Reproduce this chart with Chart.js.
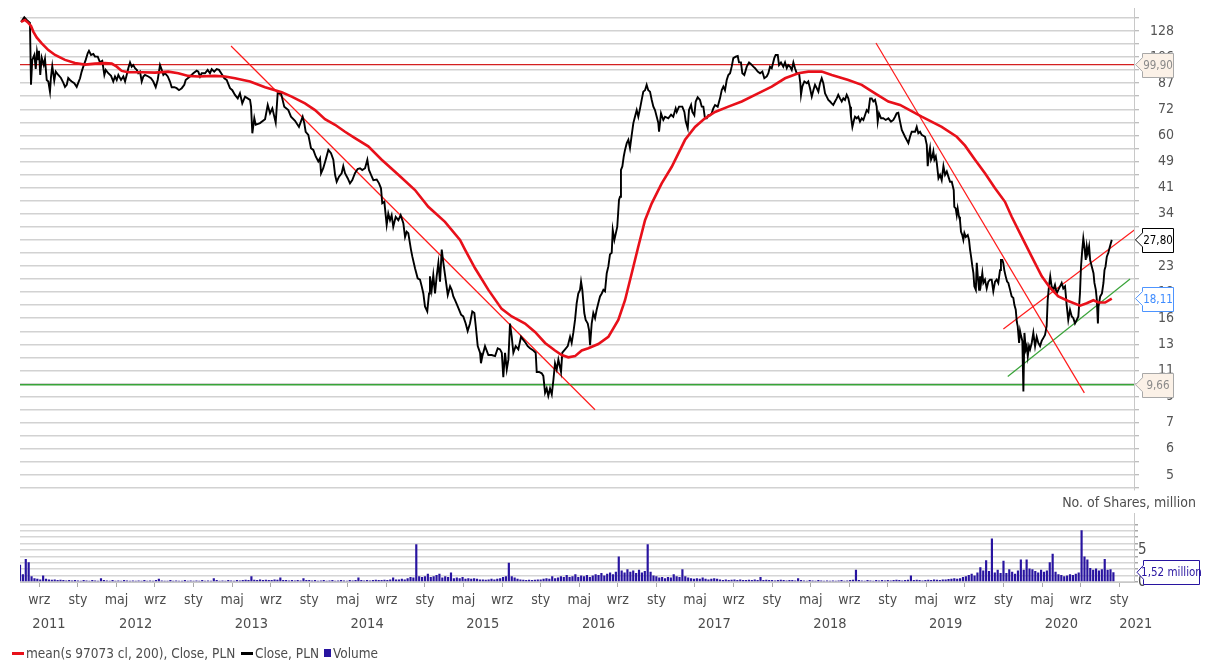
<!DOCTYPE html>
<html>
<head>
<meta charset="utf-8">
<script src="https://cdn.jsdelivr.net/npm/chart.js@4.4.1/dist/chart.umd.min.js"></script>
<style>
  html, body { margin: 0; padding: 0; background: #fff; }
  body {
    width: 1206px; height: 661px; position: relative; overflow: hidden;
    font-family: "Liberation Sans Narrow", "DejaVu Sans Condensed", sans-serif;
    color: #4d4d4d;
  }
  #priceCanvas { position: absolute; left: 0; top: 0; }
  #volCanvas { position: absolute; left: 0; top: 500px; }
  #volTitle { position: absolute; right: 10px; top: 494px; font-size: 14px; line-height: 17px; }
  .lg { position: absolute; top: 645px; font-size: 13.5px; line-height: 16px; white-space: nowrap; }
  .dash { position: absolute; height: 3px; top: 652px; }
</style>
</head>
<body>
<canvas id="priceCanvas" width="1206" height="500"></canvas>
<canvas id="volCanvas" width="1206" height="161"></canvas>
<div id="volTitle">No. of Shares, million</div>
<div class="dash" style="left:12px;width:12px;background:#e8101a"></div>
<div class="lg" style="left:26px">mean(s 97073 cl, 200), Close, PLN</div>
<div class="dash" style="left:241px;width:12px;background:#000"></div>
<div class="lg" style="left:255px">Close, PLN</div>
<div style="position:absolute;left:324px;top:649px;width:7px;height:8px;background:#2814a0"></div>
<div class="lg" style="left:333px">Volume</div>
<script>
const FONT = "'Liberation Sans Narrow', 'DejaVu Sans Condensed', sans-serif";
Chart.defaults.font.family = FONT;
Chart.defaults.font.size = 14;
Chart.defaults.color = "#4d4d4d";

// close price, [decimal year, PLN]
const closeData = [
  [2011.509,136.4],[2011.537,141.1],[2011.558,138.4],[2011.586,135.5],[2011.595,86.2],[2011.606,103.4],[2011.624,107.2],[2011.636,96.8],[2011.647,109.8],[2011.658,103.9],
  [2011.664,110.5],[2011.675,92.6],[2011.688,105.0],[2011.705,99.6],[2011.716,104.2],[2011.731,89.3],[2011.745,88.3],[2011.759,82.0],[2011.768,91.4],[2011.779,98.9],
  [2011.796,88.9],[2011.809,94.9],[2011.831,92.6],[2011.854,90.6],[2011.874,87.6],[2011.889,84.9],[2011.904,86.2],[2011.917,90.6],[2011.932,89.3],[2011.947,88.3],
  [2011.969,87.2],[2011.990,84.9],[2012.004,87.6],[2012.019,90.4],[2012.033,94.9],[2012.047,98.4],[2012.068,103.4],[2012.085,108.5],[2012.096,110.5],[2012.114,107.2],
  [2012.134,108.0],[2012.148,105.9],[2012.172,105.9],[2012.191,101.5],[2012.211,102.6],[2012.229,92.6],[2012.241,96.1],[2012.263,93.8],[2012.287,92.0],[2012.306,88.3],
  [2012.321,91.6],[2012.336,89.3],[2012.350,92.6],[2012.373,89.3],[2012.393,91.6],[2012.408,88.3],[2012.422,92.6],[2012.436,97.3],[2012.451,101.5],[2012.465,98.4],
  [2012.479,99.6],[2012.494,97.3],[2012.509,96.1],[2012.522,93.8],[2012.537,94.9],[2012.552,88.3],[2012.566,91.6],[2012.580,92.6],[2012.609,91.6],[2012.632,90.4],
  [2012.652,88.3],[2012.673,84.7],[2012.690,89.3],[2012.710,99.6],[2012.725,96.1],[2012.739,92.6],[2012.753,93.8],[2012.777,91.6],[2012.796,88.3],[2012.811,84.7],
  [2012.834,84.7],[2012.854,84.1],[2012.874,82.9],[2012.898,84.1],[2012.920,86.2],[2012.932,89.3],[2012.950,90.4],[2012.969,91.6],[2012.998,93.8],[2013.027,95.6],
  [2013.041,94.9],[2013.056,91.6],[2013.070,93.8],[2013.099,93.8],[2013.122,96.1],[2013.142,93.8],[2013.157,96.6],[2013.179,94.9],[2013.200,96.6],[2013.220,96.1],
  [2013.243,93.3],[2013.266,90.4],[2013.286,89.3],[2013.315,84.1],[2013.335,82.9],[2013.358,80.1],[2013.382,78.1],[2013.401,81.0],
  [2013.421,75.3],[2013.445,79.1],[2013.488,77.2],[2013.497,73.5],[2013.508,60.5],[2013.525,67.6],[2013.537,64.4],[2013.574,65.2],[2013.618,67.1],[2013.641,74.4],
  [2013.661,70.0],[2013.681,72.6],[2013.710,65.4],[2013.727,81.0],[2013.756,81.0],[2013.784,73.5],[2013.819,71.7],[2013.842,68.3],[2013.877,66.3],[2013.911,63.4],
  [2013.943,68.3],[2013.957,65.2],[2013.969,61.2],[2013.992,59.8],[2014.015,54.3],[2014.035,53.6],[2014.056,51.1],[2014.078,49.3],[2014.093,50.5],[2014.102,45.2],
  [2014.121,46.9],[2014.142,49.9],[2014.165,53.6],[2014.188,52.3],[2014.208,49.9],[2014.223,44.7],[2014.237,42.5],[2014.257,44.1],[2014.280,45.2],[2014.294,47.6],
  [2014.309,45.2],[2014.332,43.6],[2014.352,42.0],[2014.372,43.0],[2014.395,45.2],[2014.418,46.6],[2014.439,46.9],[2014.458,46.3],[2014.482,46.9],[2014.502,49.9],
  [2014.516,46.3],[2014.534,44.7],[2014.554,43.0],[2014.583,43.2],[2014.603,42.0],[2014.620,40.5],[2014.631,36.3],[2014.649,36.7],[2014.669,31.0],[2014.683,33.7],
  [2014.698,32.1],[2014.712,33.3],[2014.726,30.6],[2014.747,32.9],[2014.770,32.1],[2014.790,33.3],[2014.813,31.4],[2014.828,28.4],[2014.842,29.5],[2014.856,29.2],
  [2014.879,25.9],[2014.891,24.6],[2014.914,22.6],[2014.937,21.0],[2014.957,20.8],[2014.972,19.8],[2014.986,18.8],[2015.000,17.1],[2015.020,16.5],[2015.035,18.8],
  [2015.043,21.3],[2015.058,19.3],[2015.072,21.5],[2015.087,18.8],[2015.101,21.3],[2015.116,23.5],[2015.130,20.5],[2015.145,25.9],[2015.159,23.5],[2015.179,20.8],
  [2015.197,18.6],[2015.217,19.8],[2015.231,19.3],[2015.245,18.4],[2015.260,17.9],[2015.283,17.1],
  [2015.312,16.1],[2015.331,15.9],[2015.352,15.1],[2015.369,14.3],[2015.389,15.1],[2015.409,16.5],[2015.427,16.3],[2015.439,14.8],[2015.456,12.8],[2015.476,12.2],
  [2015.484,11.3],[2015.496,11.9],[2015.519,12.8],[2015.548,12.0],[2015.577,12.0],[2015.606,11.9],[2015.629,12.6],[2015.649,12.5],[2015.664,12.2],[2015.677,10.2],
  [2015.692,12.2],[2015.707,10.8],[2015.721,11.6],[2015.735,15.1],[2015.750,13.7],[2015.764,12.2],[2015.784,12.8],[2015.807,12.5],[2015.830,13.7],[2015.850,13.4],
  [2015.871,13.1],[2015.888,12.8],[2015.908,12.6],[2015.937,12.4],[2015.957,12.2],[2015.966,10.6],[2015.986,10.6],[2016.009,10.5],[2016.023,10.3],[2016.038,9.1],
  [2016.052,9.4],[2016.066,8.9],[2016.081,9.4],[2016.096,9.0],[2016.110,10.0],[2016.124,11.3],[2016.139,10.8],[2016.153,11.6],[2016.176,10.6],[2016.187,12.2],
  [2016.211,12.5],[2016.234,12.8],[2016.254,13.7],[2016.268,13.1],[2016.282,14.1],[2016.297,15.5],[2016.311,17.5],[2016.325,18.8],[2016.340,19.3],[2016.349,20.5],
  [2016.360,19.3],[2016.377,16.3],[2016.389,15.5],[2016.407,15.1],[2016.418,14.4],[2016.427,12.9],[2016.441,15.1],[2016.455,16.3],[2016.470,15.7],[2016.484,16.7],
  [2016.498,17.5],[2016.513,18.4],[2016.528,18.8],[2016.542,19.3],[2016.556,19.1],[2016.571,21.8],[2016.585,22.9],[2016.599,25.0],[2016.614,25.3],[2016.623,29.9],
  [2016.637,27.8],[2016.649,29.1],[2016.662,30.6],[2016.677,37.2],[2016.686,38.1],[2016.694,46.3],[2016.706,47.5],[2016.718,51.1],[2016.729,53.6],[2016.744,56.3],
  [2016.758,57.7],[2016.772,54.3],[2016.787,59.8],[2016.801,65.2],[2016.815,68.3],[2016.830,71.7],[2016.844,68.3],[2016.859,72.6],[2016.873,77.2],[2016.887,82.0],
  [2016.902,82.9],[2016.916,86.2],[2016.930,82.9],[2016.945,82.0],[2016.960,77.2],[2016.974,73.5],[2016.988,71.7],[2017.003,68.3],[2017.017,65.2],[2017.023,61.2],
  [2017.040,70.0],[2017.060,66.7],[2017.075,68.3],[2017.103,67.5],[2017.127,69.3],[2017.146,68.3],[2017.167,72.6],
  [2017.176,70.7],[2017.196,73.5],[2017.224,73.5],[2017.242,70.7],[2017.254,65.9],[2017.271,62.8],[2017.282,71.7],[2017.300,74.4],[2017.311,70.7],[2017.328,69.0],
  [2017.340,76.3],[2017.357,78.7],[2017.377,77.2],[2017.392,73.5],[2017.406,73.5],[2017.420,67.5],[2017.435,67.5],[2017.449,69.0],[2017.464,69.0],[2017.478,70.0],
  [2017.492,72.6],[2017.507,74.4],[2017.530,73.5],[2017.550,78.1],[2017.565,82.9],[2017.579,85.1],[2017.593,82.9],[2017.608,89.3],[2017.622,92.6],[2017.637,93.8],
  [2017.651,98.4],[2017.665,104.7],[2017.686,105.9],[2017.703,106.4],[2017.714,101.5],[2017.731,101.5],[2017.743,93.8],[2017.760,92.6],[2017.781,98.4],[2017.801,101.5],
  [2017.818,100.2],[2017.838,98.4],[2017.853,97.3],[2017.876,94.9],[2017.896,93.8],[2017.916,94.9],[2017.933,90.4],[2017.954,91.6],[2017.968,93.8],[2017.982,98.4],
  [2017.997,97.3],[2018.019,104.7],[2018.031,107.2],[2018.049,107.2],[2018.060,99.6],[2018.077,101.5],[2018.097,98.4],[2018.112,101.5],[2018.127,97.3],[2018.140,99.6],
  [2018.155,98.4],[2018.170,96.1],[2018.184,101.5],[2018.198,97.3],[2018.213,93.8],[2018.233,93.8],[2018.244,87.2],[2018.250,80.1],[2018.261,85.1],[2018.279,88.3],
  [2018.300,87.2],[2018.313,88.3],[2018.328,84.1],[2018.343,79.1],[2018.357,82.9],[2018.371,86.2],[2018.386,84.1],[2018.400,82.0],[2018.414,87.2],[2018.429,90.4],
  [2018.443,87.2],[2018.458,81.0],[2018.472,79.1],[2018.486,77.2],[2018.501,76.3],[2018.515,75.3],[2018.529,74.4],[2018.544,76.3],[2018.559,78.1],[2018.572,80.1],
  [2018.587,78.1],[2018.602,76.3],[2018.616,78.1],[2018.630,77.2],[2018.645,80.1],[2018.659,78.1],[2018.674,73.5],[2018.682,68.3],[2018.694,63.4],[2018.708,66.7],
  [2018.717,68.3],[2018.732,67.5],[2018.745,68.3],[2018.760,65.9],[2018.775,67.5],[2018.789,66.7],[2018.803,69.0],[2018.818,71.7],[2018.832,70.7],[2018.847,78.1],
  [2018.861,78.1],[2018.875,76.3],[2018.890,77.2],[2018.904,73.5],[2018.913,65.9],[2018.924,70.0],[2018.942,67.5],[2018.961,67.5],[2018.982,66.7],[2019.005,67.5],
  [2019.028,65.9],[2019.048,66.7],
  [2019.063,68.3],[2019.077,70.0],[2019.091,70.3],[2019.106,65.9],[2019.121,62.0],[2019.149,59.0],[2019.178,56.3],[2019.192,59.0],[2019.207,61.2],[2019.236,61.2],
  [2019.250,63.4],[2019.264,60.5],[2019.279,61.2],[2019.293,59.8],[2019.322,59.0],[2019.337,55.6],[2019.345,47.6],[2019.357,52.3],[2019.365,54.3],[2019.374,49.9],
  [2019.385,51.1],[2019.394,53.0],[2019.403,49.9],[2019.415,51.1],[2019.424,48.6],[2019.438,43.6],[2019.452,44.7],[2019.466,43.0],[2019.481,47.6],[2019.495,44.7],
  [2019.510,45.8],[2019.524,44.1],[2019.538,42.5],[2019.553,42.5],[2019.570,40.0],[2019.575,35.4],[2019.587,35.0],[2019.596,33.3],[2019.604,35.0],[2019.616,32.9],
  [2019.624,32.1],[2019.633,29.5],[2019.644,28.8],[2019.653,27.8],[2019.662,29.2],[2019.674,28.4],[2019.691,28.8],[2019.702,27.8],[2019.711,25.9],[2019.720,24.6],
  [2019.731,22.9],[2019.740,21.8],[2019.748,19.8],[2019.761,19.3],[2019.769,23.5],[2019.778,21.3],[2019.789,19.3],[2019.797,21.3],[2019.806,20.3],[2019.817,21.8],
  [2019.826,20.3],[2019.840,20.8],[2019.855,19.5],[2019.869,20.5],[2019.884,20.8],[2019.898,20.8],[2019.912,19.1],[2019.927,20.5],[2019.941,20.8],[2019.955,20.3],
  [2019.970,22.3],[2019.978,24.0],[2019.990,24.0],[2019.998,23.5],[2020.007,22.3],[2020.019,21.3],[2020.031,20.5],[2020.042,20.3],[2020.057,19.3],[2020.071,18.4],
  [2020.085,18.2],[2020.094,17.3],[2020.106,16.7],[2020.115,15.3],[2020.123,14.8],[2020.135,13.1],[2020.143,14.3],[2020.152,13.8],[2020.163,13.3],[2020.172,9.2],
  [2020.181,14.1],[2020.193,12.5],[2020.201,12.8],[2020.210,11.9],[2020.221,12.8],[2020.230,12.5],[2020.244,13.1],[2020.258,14.1],[2020.273,12.8],[2020.287,13.7],
  [2020.301,13.1],[2020.316,12.8],[2020.330,13.3],[2020.345,13.6],[2020.359,13.9],[2020.373,14.8],[2020.382,17.9],[2020.393,19.8],[2020.404,21.3],[2020.416,19.8],
  [2020.431,19.3],[2020.445,20.0],[2020.460,18.8],[2020.474,19.3],[2020.489,19.8],[2020.503,20.3],[2020.517,19.5],[2020.532,19.8],[2020.546,17.3],[2020.560,15.5],
  [2020.575,16.7],[2020.590,15.9],[2020.604,15.7],[2020.618,15.1],[2020.633,15.5],[2020.647,15.9],[2020.661,18.8],[2020.670,22.9],[2020.681,25.9],[2020.690,28.1],
  [2020.699,26.5],[2020.711,24.0],[2020.720,26.5],[2020.729,25.2],[2020.740,26.5],[2020.749,24.0],[2020.763,22.9],[2020.778,21.8],[2020.786,20.3],[2020.798,19.3],
  [2020.807,17.9],[2020.816,15.1],[2020.821,17.1],[2020.836,18.4],[2020.851,18.8],[2020.864,20.3],[2020.873,22.3],[2020.882,22.9],[2020.893,24.6],[2020.906,25.3],
  [2020.920,26.5],[2020.936,27.80]
];

// 200-session mean of the close
const meanData = [
  [2011.509,136.4],[2011.543,138.4],[2011.572,135.5],[2011.595,132.4],[2011.615,127.1],[2011.644,121.8],[2011.688,116.7],[2011.745,111.1],[2011.803,107.2],[2011.889,103.4],
  [2011.975,101.0],[2012.062,99.9],[2012.148,100.6],[2012.235,101.0],[2012.293,100.6],[2012.336,98.4],[2012.379,95.4],[2012.436,94.5],[2012.552,94.5],[2012.667,94.2],
  [2012.782,94.9],[2012.868,93.8],[2012.955,92.0],[2013.041,91.6],[2013.185,92.0],[2013.272,91.6],[2013.358,90.4],[2013.488,88.3],[2013.618,84.7],[2013.762,81.6],
  [2013.848,79.1],[2013.963,75.3],[2014.050,71.7],[2014.136,67.1],[2014.223,64.4],[2014.309,61.2],[2014.395,58.4],[2014.510,55.0],[2014.626,49.9],[2014.770,44.7],
  [2014.914,40.0],[2015.029,35.4],[2015.173,31.7],[2015.303,27.8],[2015.346,25.9],[2015.433,22.6],[2015.548,19.3],[2015.663,16.8],[2015.750,15.9],[2015.865,15.1],
  [2015.951,14.2],[2016.038,13.1],[2016.124,12.4],[2016.182,12.0],[2016.239,11.8],[2016.297,11.9],[2016.355,12.4],[2016.412,12.6],[2016.498,13.0],[2016.585,13.7],
  [2016.671,15.5],[2016.729,17.9],[2016.787,21.8],[2016.844,26.5],[2016.902,32.1],[2016.960,36.3],[2017.046,42.0],[2017.133,47.4],[2017.248,57.7],[2017.334,63.4],
  [2017.420,67.5],[2017.507,70.7],[2017.622,73.5],[2017.738,76.3],[2017.853,80.1],[2017.997,85.1],[2018.112,90.4],[2018.227,93.8],[2018.313,94.9],[2018.429,94.9],
  [2018.516,92.6],[2018.659,89.3],[2018.775,86.2],[2018.890,81.0],[2019.005,76.3],[2019.106,74.4],[2019.293,68.3],[2019.466,63.4],[2019.596,59.0],[2019.668,55.3],
  [2019.754,49.9],[2019.840,45.2],[2019.927,40.5],[2020.013,36.7],[2020.071,32.9],[2020.158,28.4],[2020.244,24.6],[2020.331,21.3],[2020.402,19.6],[2020.474,18.4],
  [2020.560,17.8],[2020.662,17.2],[2020.719,17.5],[2020.777,17.9],[2020.820,17.6],[2020.878,17.6],[2020.936,18.11]
];

// volume, million shares, one bar every 0.025 year from mid 2011
const volStart = 2011.5;
const volStep = 0.025;
const volumeValues = [
  2.7,1.2,3.6,3.1,0.9,0.6,0.5,0.4,1.0,0.5,0.4,0.35,0.4,0.3,0.35,0.3,0.25,0.3,0.25,0.3,
  0.25,0.2,0.3,0.25,0.2,0.3,0.25,0.2,0.6,0.3,0.25,0.2,0.3,0.2,0.25,0.2,0.3,0.25,0.2,0.25,
  0.2,0.25,0.2,0.3,0.2,0.25,0.2,0.3,0.5,0.25,0.2,0.2,0.3,0.2,0.25,0.2,0.2,0.3,0.2,0.25,
  0.2,0.25,0.2,0.3,0.2,0.25,0.2,0.6,0.3,0.2,0.25,0.2,0.3,0.25,0.2,0.3,0.25,0.3,0.35,0.3,
  0.9,0.35,0.3,0.4,0.3,0.35,0.3,0.3,0.4,0.35,0.7,0.3,0.3,0.25,0.3,0.25,0.3,0.25,0.6,0.3,
  0.3,0.25,0.3,0.2,0.25,0.3,0.2,0.25,0.3,0.2,0.25,0.3,0.25,0.2,0.3,0.25,0.3,0.7,0.3,0.25,
  0.3,0.25,0.3,0.35,0.3,0.3,0.35,0.3,0.4,0.7,0.4,0.4,0.5,0.4,0.6,0.8,0.7,5.9,0.9,0.8,
  0.9,1.3,0.8,0.9,1.1,1.3,0.7,0.9,0.8,1.5,0.6,0.7,0.6,0.8,0.5,0.6,0.5,0.6,0.5,0.4,
  0.4,0.35,0.4,0.5,0.4,0.5,0.6,0.8,0.9,3.0,0.9,0.7,0.5,0.4,0.35,0.3,0.35,0.3,0.35,0.4,
  0.4,0.5,0.6,0.5,0.9,0.6,0.7,0.9,0.8,1.1,0.8,0.9,1.2,0.8,1.0,0.9,1.1,0.8,1.0,1.2,
  1.1,1.4,1.0,1.3,1.5,1.2,1.6,4.0,1.8,1.5,2.0,1.6,1.8,1.4,1.9,1.5,1.7,5.9,1.6,1.0,
  0.9,0.7,0.8,0.6,0.8,0.7,1.2,0.9,0.8,2.0,0.9,0.7,0.6,0.5,0.6,0.5,0.7,0.5,0.4,0.5,
  0.6,0.5,0.4,0.3,0.4,0.3,0.35,0.4,0.3,0.4,0.3,0.3,0.35,0.3,0.4,0.3,0.8,0.3,0.35,0.3,
  0.3,0.25,0.3,0.35,0.3,0.25,0.3,0.3,0.25,0.6,0.3,0.25,0.2,0.3,0.25,0.2,0.3,0.25,0.2,0.25,
  0.2,0.25,0.2,0.25,0.3,0.2,0.25,0.3,0.35,1.9,0.3,0.25,0.2,0.3,0.25,0.2,0.3,0.25,0.3,0.25,
  0.3,0.25,0.3,0.35,0.3,0.25,0.3,0.35,1.0,0.3,0.35,0.3,0.25,0.3,0.35,0.3,0.4,0.35,0.3,0.4,
  0.4,0.45,0.5,0.6,0.5,0.6,0.8,0.9,1.1,1.3,1.0,1.5,2.3,1.8,3.4,1.7,6.8,1.5,1.9,1.4,
  3.3,1.4,2.0,1.6,1.3,1.8,3.5,1.9,3.5,2.1,2.0,1.7,1.5,1.9,1.6,1.8,3.1,4.4,1.6,1.2,
  1.1,0.9,1.0,1.2,1.1,1.3,1.5,8.1,4.0,3.5,2.2,1.9,2.1,1.8,2.0,3.6,1.9,2.0,1.52
];

// support / resistance levels and trend lines
const resistanceLevel = 99.90;
const supportLevel = 9.66;
const downTrend1 = [[2013.324,114.4],[2016.470,8.05]];
const downTrend2 = [[2018.898,116.9],[2020.699,9.10]];
const channelTop = [[2019.999,14.5],[2021.131,29.9]];
const channelBottom = [[2020.037,10.26],[2021.094,20.9]];

// axes
const xMin = 2011.5, xMax = 2021.128;
const yMin = 4.5, yMax = 150;
const gridBase = 5, gridRatio = 1.1;           // price grid every 10%
const yTickLabels = ["5","6","7","9","11","13","16","19","23","28","34","41","49","60","72","87","106","128"];
const monthNames = ["sty","maj","wrz"];          // Jan, May, Sep
const years = [2011,2012,2013,2014,2015,2016,2017,2018,2019,2020,2021];
const volMax = 10.7;

const RED = "#e8101a";
const THIN_RED = "#ff1a1a";
const GREEN = "#39a339";
const VOL = "#2814a0";

function xy(pairs) { return pairs.map(p => ({ x: p[0], y: p[1] })); }
function hline(v) { return [{ x: xMin, y: v }, { x: xMax, y: v }]; }
function fmt(v) { return v.toFixed(2).replace(".", ","); }

function callout(ctx, tipX, left, right, cy, h, fill, stroke, color, text) {
  const top = Math.round(cy - h / 2) + 0.5, bot = top + h;
  ctx.save();
  ctx.beginPath();
  ctx.moveTo(tipX, cy);
  ctx.lineTo(left, cy - 7);
  ctx.lineTo(left, top);
  ctx.lineTo(right, top);
  ctx.lineTo(right, bot);
  ctx.lineTo(left, bot);
  ctx.lineTo(left, cy + 7);
  ctx.closePath();
  ctx.fillStyle = fill;
  ctx.fill();
  ctx.lineWidth = 1;
  ctx.strokeStyle = stroke;
  ctx.stroke();
  ctx.fillStyle = color;
  ctx.font = "11.5px " + FONT;
  ctx.textAlign = "center";
  ctx.textBaseline = "middle";
  ctx.fillText(text, (left + right) / 2, cy + 1);
  ctx.restore();
}

const lastClose = closeData[closeData.length - 1][1];
const lastMean = meanData[meanData.length - 1][1];
const lastVolume = volumeValues[volumeValues.length - 1];

const priceLabels = {
  id: "priceLabels",
  afterDraw(chart) {
    const ys = chart.scales.y, ctx = chart.ctx;
    const tip = chart.chartArea.right + 1.5;
    const items = [
      [resistanceLevel, "#fbf1e7", "#a8a8a8", "#8a8a8a"],
      [lastClose, "#ffffff", "#000000", "#000000"],
      [lastMean, "#ffffff", "#4d94ff", "#3d8bff"],
      [supportLevel, "#fbf1e7", "#a8a8a8", "#8a8a8a"]
    ];
    items.forEach(it => {
      callout(ctx, tip, 1142.5, 1173.5, ys.getPixelForValue(it[0]), 24, it[1], it[2], it[3], fmt(it[0]));
    });
  }
};

const yearLabels = {
  id: "yearLabels",
  afterDraw(chart) {
    const xs = chart.scales.x, ctx = chart.ctx;
    ctx.save();
    ctx.font = "14.5px " + FONT;
    ctx.fillStyle = "#4d4d4d";
    ctx.textAlign = "center";
    ctx.textBaseline = "middle";
    years.forEach(yr => {
      const a = Math.max(yr, xMin), b = Math.min(yr + 1, xMax);
      if (b <= a) return;
      const t = String(yr);
      const w = ctx.measureText(t).width;
      let cx = (xs.getPixelForValue(a) + xs.getPixelForValue(b)) / 2;
      if (yr >= xMin) cx = Math.max(cx, xs.getPixelForValue(yr) + w / 2);
      ctx.fillText(t, cx, 124);
    });
    ctx.restore();
    const ys = chart.scales.y;
    callout(chart.ctx, chart.chartArea.right + 3, 1143.5, 1199.5, ys.getPixelForValue(lastVolume), 24,
      "#ffffff", VOL, VOL, fmt(lastVolume) + " million");
  }
};

function lineSet(data, color, width, order) {
  return { data, borderColor: color, borderWidth: width, pointRadius: 0, tension: 0, fill: false, order };
}

new Chart(document.getElementById("priceCanvas"), {
  type: "line",
  data: {
    datasets: [
      lineSet(xy(meanData), RED, 2.6, 0),
      lineSet(xy(closeData), "#000000", 1.9, 1),
      lineSet(xy(downTrend1), THIN_RED, 1.2, 2),
      lineSet(xy(downTrend2), THIN_RED, 1.2, 2),
      lineSet(xy(channelTop), THIN_RED, 1.2, 2),
      lineSet(xy(channelBottom), GREEN, 1.2, 2),
      lineSet(hline(resistanceLevel), "#d42020", 1.3, 3),
      lineSet(hline(supportLevel), GREEN, 1.5, 3)
    ]
  },
  options: {
    responsive: false,
    animation: false,
    layout: { padding: { left: 20, right: 32, top: 8.9, bottom: 10.6 } },
    plugins: { legend: { display: false }, tooltip: { enabled: false } },
    scales: {
      x: { type: "linear", min: xMin, max: xMax, display: false },
      y: {
        type: "logarithmic",
        position: "right",
        min: yMin,
        max: yMax,
        afterBuildTicks(s) {
          const t = [];
          for (let n = -1; n <= 35; n++) t.push({ value: gridBase * Math.pow(gridRatio, n) });
          s.ticks = t;
        },
        afterFit(s) { s.width = 40; s.paddingTop = 0; s.paddingBottom = 0; },
        grid: { color: "#d2d2d2", lineWidth: 1.5, tickLength: 5, tickColor: "#a9a9a9", tickWidth: 1 },
        border: { display: true, color: "#c8c8c8", width: 1 },
        ticks: {
          autoSkip: false,
          padding: 3,
          crossAlign: "far",
          font: { size: 14 },
          color: "#555555",
          callback(v, i) {
            const n = i - 1;
            return n >= 0 && n % 2 === 0 ? yTickLabels[n / 2] : "";
          }
        }
      }
    }
  },
  plugins: [priceLabels]
});

new Chart(document.getElementById("volCanvas"), {
  type: "bar",
  data: {
    datasets: [{
      data: volumeValues.map((v, i) => ({ x: volStart + i * volStep, y: v })),
      backgroundColor: VOL,
      barPercentage: 0.75,
      categoryPercentage: 1,
      grouped: false
    }]
  },
  options: {
    responsive: false,
    animation: false,
    layout: { padding: { left: 20, right: 32, top: 13.5, bottom: 39 } },
    plugins: { legend: { display: false }, tooltip: { enabled: false } },
    scales: {
      x: {
        type: "linear",
        min: xMin,
        max: xMax,
        offset: false,
        afterBuildTicks(s) {
          const t = [];
          years.forEach(yr => [0, 4, 8].forEach(m => {
            const v = yr + m / 12;
            if (v >= xMin && v <= xMax) t.push({ value: v });
          }));
          s.ticks = t;
        },
        afterFit(s) { s.height = 40; s.paddingLeft = 0; s.paddingRight = 0; },
        grid: { drawOnChartArea: false, offset: false, tickLength: 5, tickColor: "#a9a9a9" },
        border: { display: true, color: "#c8c8c8" },
        ticks: {
          autoSkip: false,
          maxRotation: 0,
          padding: 5,
          font: { size: 14 },
          callback(v) {
            const k = Math.round((v - Math.floor(v + 1e-6)) * 3);
            return monthNames[k] || "";
          }
        }
      },
      y: {
        type: "linear",
        position: "right",
        min: 0,
        max: volMax,
        afterBuildTicks(s) {
          const t = [];
          for (let v = 0; v <= 9; v++) t.push({ value: v });
          s.ticks = t;
        },
        afterFit(s) { s.width = 40; s.paddingTop = 0; s.paddingBottom = 0; },
        grid: { color: "#d6d6d6", lineWidth: 1.5, tickLength: 4, tickColor: "#a9a9a9" },
        border: { display: true, color: "#c8c8c8" },
        ticks: {
          autoSkip: false,
          padding: 0,
          font: { size: 15 },
          callback(v) { return v === 0 || v === 5 ? String(v) : ""; }
        }
      }
    }
  },
  plugins: [yearLabels]
});
</script>
</body>
</html>
